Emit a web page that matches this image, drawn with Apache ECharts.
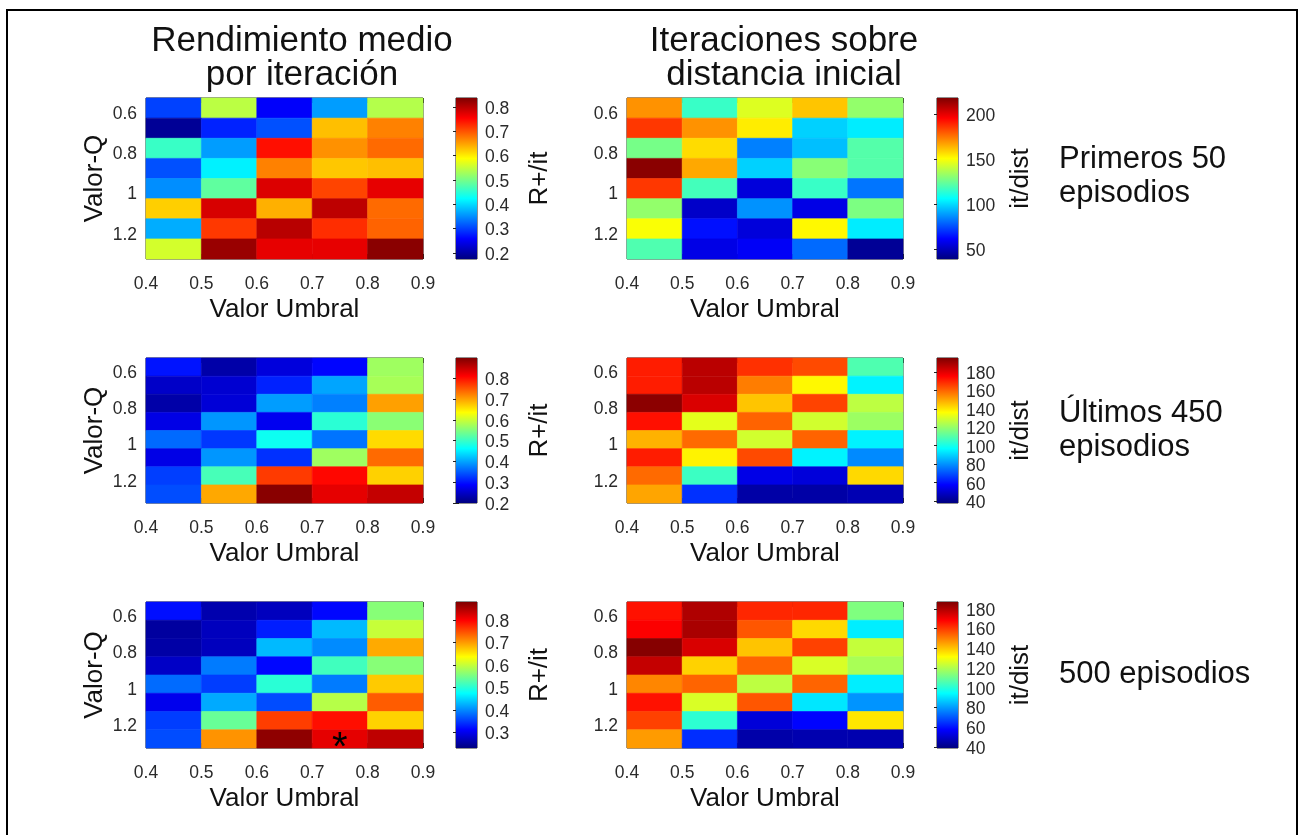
<!DOCTYPE html>
<html>
<head>
<meta charset="utf-8">
<script src="https://cdn.jsdelivr.net/npm/echarts@6/dist/echarts.min.js"></script>
<style>
  html, body { margin: 0; padding: 0; background: #fff; }
  #chart { width: 1298px; height: 835px; }
</style>
</head>
<body>
<div id="chart"></div>
<script>
// Threshold bins (left edges) and Q-value rows
const umbral = [0.4, 0.5, 0.6, 0.7, 0.8];
const umbralTicks = [0.4, 0.5, 0.6, 0.7, 0.8, 0.9];
const valorQ = [0.6, 0.7, 0.8, 0.9, 1.0, 1.1, 1.2, 1.3];
const valorQTicks = [0.6, 0.8, 1, 1.2];

// Mean return per iteration (R+/it), rows = valorQ, columns = umbral
const rendPrimeros = [
  [0.30, 0.545, 0.255, 0.36, 0.54],
  [0.19, 0.28, 0.31, 0.63, 0.67],
  [0.46, 0.36, 0.745, 0.66, 0.685],
  [0.31, 0.415, 0.67, 0.625, 0.63],
  [0.35, 0.485, 0.777, 0.71, 0.77],
  [0.62, 0.78, 0.64, 0.797, 0.685],
  [0.37, 0.718, 0.80, 0.725, 0.69],
  [0.56, 0.82, 0.77, 0.77, 0.83]
];
const rendUltimos = [
  [0.30, 0.228, 0.263, 0.29, 0.57],
  [0.25, 0.256, 0.31, 0.40, 0.576],
  [0.228, 0.26, 0.395, 0.375, 0.70],
  [0.27, 0.39, 0.277, 0.49, 0.556],
  [0.36, 0.325, 0.47, 0.367, 0.66],
  [0.27, 0.39, 0.32, 0.57, 0.737],
  [0.33, 0.51, 0.77, 0.806, 0.667],
  [0.34, 0.695, 0.89, 0.827, 0.85]
];
const rendTotal = [
  [0.32, 0.26, 0.27, 0.315, 0.56],
  [0.25, 0.27, 0.33, 0.43, 0.60],
  [0.255, 0.27, 0.43, 0.40, 0.69],
  [0.275, 0.39, 0.315, 0.515, 0.56],
  [0.38, 0.35, 0.50, 0.39, 0.67],
  [0.30, 0.42, 0.36, 0.59, 0.74],
  [0.35, 0.54, 0.76, 0.79, 0.665],
  [0.36, 0.705, 0.87, 0.815, 0.84]
];

// Iterations over initial distance (it/dist)
const iterPrimeros = [
  [170, 116, 145, 161, 132],
  [186, 170, 154, 98, 103],
  [127, 157, 84, 95, 121],
  [216, 166, 98, 130, 121],
  [186, 118, 55, 116, 82],
  [132, 52, 87, 57, 128],
  [150, 64, 55, 152, 103],
  [120, 57, 60, 80, 43]
];
const iterUltimos = [
  [171, 186, 168, 164, 109],
  [171, 186, 156, 137, 95],
  [193, 181, 145, 165, 126],
  [173, 132, 160, 129, 121],
  [148, 159, 129, 160, 95],
  [171, 138, 164, 95, 79],
  [159, 106, 54, 52, 142],
  [150, 65, 44, 44, 46]
];
const iterTotal = [
  [166, 180, 163, 163, 113],
  [169, 181, 156, 137, 92],
  [186, 174, 140, 159, 123],
  [177, 138, 154, 126, 119],
  [149, 154, 122, 154, 92],
  [166, 126, 156, 91, 79],
  [159, 101, 52, 58, 135],
  [146, 64, 45, 46, 46]
];

// Colour scale limits and colorbar ticks
const rangoRend = [[0.175, 0.837], [0.2, 0.897], [0.23, 0.88]];
const rangoIter = [[39, 218], [38, 195], [39, 187]];
const ticksRend = [
  [0.2, 0.3, 0.4, 0.5, 0.6, 0.7, 0.8],
  [0.2, 0.3, 0.4, 0.5, 0.6, 0.7, 0.8],
  [0.3, 0.4, 0.5, 0.6, 0.7, 0.8]
];
const ticksIter = [
  [50, 100, 150, 200],
  [40, 60, 80, 100, 120, 140, 160, 180],
  [40, 60, 80, 100, 120, 140, 160, 180]
];

// Best configuration (marked with an asterisk)
const mejorCelda = { umbral: 0.7, valorQ: 1.3 };

const titulosColumna = ['Rendimiento medio\npor iteración', 'Iteraciones sobre\ndistancia inicial'];
const titulosFila = ['Primeros 50\nepisodios', 'Últimos 450\nepisodios', '500 episodios'];

// ---------------------------------------------------------------
const FONT = "'Liberation Sans', Arial, Helvetica, sans-serif";
const JET = ['#00007f', '#0000ff', '#007fff', '#00ffff', '#7fff7f', '#ffff00', '#ff7f00', '#ff0000', '#7f0000'];
const STEP = 0.1;
const TXT = '#2a2a2a';

const cols = [
  { plot: 146, w: 277, bar: 456, titleX: 302 },
  { plot: 627, w: 276, bar: 937, titleX: 784 }
];
const rows = [
  { top: 98, h: 161, labelY: 176 },
  { top: 358, h: 145, labelY: 430 },
  { top: 602, h: 146, labelY: 674 }
];
const BAR_W = 21;

const panels = [
  { data: rendPrimeros, range: rangoRend[0], ticks: ticksRend[0], name: 'R+/it', c: 0, r: 0 },
  { data: iterPrimeros, range: rangoIter[0], ticks: ticksIter[0], name: 'it/dist', c: 1, r: 0 },
  { data: rendUltimos, range: rangoRend[1], ticks: ticksRend[1], name: 'R+/it', c: 0, r: 1 },
  { data: iterUltimos, range: rangoIter[1], ticks: ticksIter[1], name: 'it/dist', c: 1, r: 1 },
  { data: rendTotal, range: rangoRend[2], ticks: ticksRend[2], name: 'R+/it', c: 0, r: 2 },
  { data: iterTotal, range: rangoIter[2], ticks: ticksIter[2], name: 'it/dist', c: 1, r: 2 }
];

const grid = [], xAxis = [], yAxis = [], series = [], visualMap = [];
const tickStyle = { color: '#222', width: 1 };
const labelStyle = { fontSize: 17.5, color: TXT, fontFamily: FONT };
const nameStyle = { fontSize: 26, color: '#111', fontFamily: FONT };
const fmtQ = v => String(Math.round(v * 10) / 10);

function cellItem(params, api) {
  const x0 = api.value(0), y = api.value(1);
  const p0 = api.coord([x0, y - STEP / 2]);
  const p1 = api.coord([x0 + STEP, y + STEP / 2]);
  const c = api.visual('color');
  return {
    type: 'rect',
    shape: { x: p0[0], y: Math.min(p0[1], p1[1]), width: p1[0] - p0[0], height: Math.abs(p1[1] - p0[1]) },
    style: { fill: c, stroke: c, lineWidth: 0.6 }
  };
}

function barItem(params, api) {
  const p0 = api.coord([0, api.value(1)]);
  const p1 = api.coord([1, api.value(2)]);
  return {
    type: 'rect',
    shape: { x: p0[0], y: p1[1], width: p1[0] - p0[0], height: p0[1] - p1[1] },
    style: {
      fill: new echarts.graphic.LinearGradient(0, 1, 0, 0,
        JET.map((color, i) => ({ offset: i / (JET.length - 1), color })))
    }
  };
}

panels.forEach((p, k) => {
  const col = cols[p.c], row = rows[p.r];
  // heatmap grid
  const gH = grid.length;
  grid.push({ left: col.plot, top: row.top, width: col.w, height: row.h, show: true,
    borderColor: '#222', borderWidth: 1, backgroundColor: 'transparent' });
  const xi = xAxis.length;
  xAxis.push({
    gridIndex: gH, type: 'value', position: 'bottom',
    min: umbralTicks[0], max: umbralTicks[umbralTicks.length - 1],
    axisLine: { show: false }, splitLine: { show: false },
    axisTick: { show: true, inside: true, length: 5, customValues: umbralTicks, lineStyle: tickStyle },
    axisLabel: Object.assign({ customValues: umbralTicks, formatter: v => v.toFixed(1), margin: 16 }, labelStyle),
    name: 'Valor Umbral', nameLocation: 'middle', nameGap: 38, nameTextStyle: nameStyle
  });
  xAxis.push({
    gridIndex: gH, type: 'value', position: 'top',
    min: umbralTicks[0], max: umbralTicks[umbralTicks.length - 1],
    axisLine: { show: false }, splitLine: { show: false }, axisLabel: { show: false },
    axisTick: { show: true, inside: true, length: 5, customValues: umbralTicks, lineStyle: tickStyle }
  });
  const yi = yAxis.length;
  const yBase = {
    gridIndex: gH, type: 'value', inverse: true,
    min: valorQ[0] - STEP / 2, max: valorQ[valorQ.length - 1] + STEP / 2,
    axisLine: { show: false }, splitLine: { show: false },
    axisTick: { show: true, inside: true, length: 5, customValues: valorQTicks, lineStyle: tickStyle }
  };
  yAxis.push(Object.assign({}, yBase, {
    position: 'left',
    axisLabel: Object.assign({ customValues: valorQTicks, formatter: fmtQ, margin: 9,
      verticalAlign: 'top', lineHeight: 12 }, labelStyle),
    name: p.c === 0 ? 'Valor-Q' : '', nameLocation: 'middle', nameGap: 38, nameRotate: 90, nameTextStyle: nameStyle
  }));
  yAxis.push(Object.assign({}, yBase, { position: 'right', axisLabel: { show: false } }));

  const cells = [];
  p.data.forEach((fila, i) => fila.forEach((v, j) => cells.push([umbral[j], valorQ[i], v])));
  visualMap.push({
    show: false, type: 'continuous', seriesIndex: series.length, dimension: 2,
    min: p.range[0], max: p.range[1], inRange: { color: JET }
  });
  series.push({
    type: 'custom', xAxisIndex: xi, yAxisIndex: yi, renderItem: cellItem,
    encode: { x: 0, y: 1 }, data: cells, silent: true
  });

  // colorbar grid
  const gB = grid.length;
  grid.push({ left: col.bar, top: row.top, width: BAR_W, height: row.h, show: true,
    borderColor: '#222', borderWidth: 1, backgroundColor: 'transparent' });
  const bxi = xAxis.length;
  xAxis.push({ gridIndex: gB, type: 'value', min: 0, max: 1, show: false });
  const byi = yAxis.length;
  const bBase = {
    gridIndex: gB, type: 'value', min: p.range[0], max: p.range[1],
    axisLine: { show: false }, splitLine: { show: false },
    axisTick: { show: true, inside: true, length: 3, customValues: p.ticks, lineStyle: tickStyle }
  };
  yAxis.push(Object.assign({}, bBase, {
    position: 'right',
    axisLabel: Object.assign({ customValues: p.ticks, margin: 8, verticalAlign: 'top', lineHeight: 4,
      formatter: v => (p.range[1] < 5 ? v.toFixed(1) : String(v)) }, labelStyle),
    name: p.name, nameLocation: 'middle', nameGap: 50, nameRotate: 90, nameTextStyle: nameStyle
  }));
  yAxis.push(Object.assign({}, bBase, { position: 'left', axisLabel: { show: false } }));
  series.push({
    type: 'custom', xAxisIndex: bxi, yAxisIndex: byi, renderItem: barItem,
    encode: { x: 0, y: [1, 2] }, data: [[0, p.range[0], p.range[1]]], silent: true
  });
});

// asterisk on the best cell of the 500-episode return map
const idxTotal = 4;
series.push({
  type: 'custom', xAxisIndex: idxTotal * 3, yAxisIndex: idxTotal * 4, silent: true, z: 10,
  encode: { x: 0, y: 1 },
  data: [[mejorCelda.umbral + STEP / 2, mejorCelda.valorQ]],
  renderItem: (params, api) => {
    const pt = api.coord([api.value(0), api.value(1)]);
    return { type: 'text', x: pt[0], y: pt[1] + 10,
      style: { text: '*', fontSize: 40, fontFamily: FONT, fill: '#000', align: 'center', verticalAlign: 'middle' } };
  }
});

const graphic = [
  { type: 'rect', shape: { x: 7, y: 10, width: 1290, height: 840 }, style: { fill: null, stroke: '#000', lineWidth: 2 }, silent: true }
];
titulosColumna.forEach((t, i) => graphic.push({
  type: 'text', x: cols[i].titleX, y: 58,
  style: { text: t, fontSize: 35, fontFamily: FONT, fill: '#111', align: 'center', verticalAlign: 'middle', lineHeight: 34 }
}));
titulosFila.forEach((t, i) => graphic.push({
  type: 'text', x: 1059, y: rows[i].labelY,
  style: { text: t, fontSize: 31, fontFamily: FONT, fill: '#111', align: 'left', verticalAlign: 'middle', lineHeight: 34 }
}));

const chart = echarts.init(document.getElementById('chart'), null, { renderer: 'canvas' });
chart.setOption({
  animation: false,
  backgroundColor: '#fff',
  grid, xAxis, yAxis, series, visualMap, graphic
});
</script>
</body>
</html>
